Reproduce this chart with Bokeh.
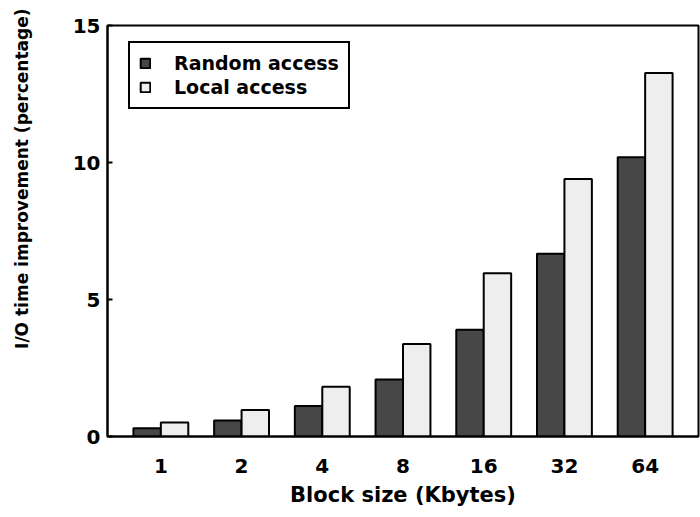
from bokeh.plotting import figure
from bokeh.models import ColumnDataSource, FactorRange, Range1d, Legend, LegendItem, Title, FixedTicker
from bokeh.transform import dodge
from bokeh.embed import file_html
from bokeh.resources import INLINE

block_sizes = ["1", "2", "4", "8", "16", "32", "64"]
random_access = [0.30, 0.58, 1.11, 2.08, 3.90, 6.67, 10.19]
local_access = [0.51, 0.97, 1.82, 3.38, 5.96, 9.40, 13.27]
y_ticks = [0, 5, 10, 15]

FONT = "DejaVu Sans"

src = ColumnDataSource(data=dict(size=block_sizes, rnd=random_access, loc=local_access))

p = figure(width=700, height=517, output_backend="svg", toolbar_location=None,
           x_range=FactorRange(factors=block_sizes, range_padding=0.046),
           y_range=Range1d(0, 15),
           min_border_left=107, min_border_right=2, min_border_top=25, min_border_bottom=81)

r1 = p.vbar(x=dodge("size", -0.17, range=p.x_range), top="rnd", width=0.34, source=src,
            fill_color="#474747", line_color="black", line_width=2)
r2 = p.vbar(x=dodge("size", 0.17, range=p.x_range), top="loc", width=0.34, source=src,
            fill_color="#eeeeee", line_color="black", line_width=2)

p.grid.visible = False
p.outline_line_color = "black"
p.outline_line_width = 2
p.outline_line_alpha = 1
p.background_fill_color = "white"
p.border_fill_color = "white"

for ax in (p.xaxis, p.yaxis):
    ax.axis_line_width = 2
    ax.axis_line_color = "black"
    ax.major_label_text_font = FONT
    ax.major_label_text_font_style = "bold"
    ax.major_label_text_font_size = "20px"
    ax.major_label_text_color = "black"
    ax.minor_tick_line_color = None

p.xaxis.major_tick_line_color = None
p.xaxis.major_label_standoff = 16
p.xaxis.axis_label = "Block size (Kbytes)"
p.xaxis.axis_label_text_font = FONT
p.xaxis.axis_label_text_font_style = "bold"
p.xaxis.axis_label_text_font_size = "21px"
p.xaxis.axis_label_text_color = "black"
p.xaxis.axis_label_standoff = 7

p.yaxis.ticker = FixedTicker(ticks=y_ticks)
p.yaxis.major_tick_in = 5
p.yaxis.major_tick_out = 0
p.yaxis.major_tick_line_width = 2
p.yaxis.major_label_standoff = 7
# blank spacer label widens the axis panel so the side title sits further left
p.yaxis.axis_label = " "
p.yaxis.axis_label_text_font_size = "20px"
p.yaxis.axis_label_standoff = 8

ytitle = Title(text="I/O time improvement (percentage)", align="right",
               text_font=FONT, text_font_style="bold", text_font_size="17px",
               text_color="black", standoff=10, offset=-17)
p.add_layout(ytitle, "left")

legend = Legend(items=[LegendItem(label="Random access", renderers=[r1]),
                       LegendItem(label="Local access", renderers=[r2])],
                location=(21, 327), margin=0,
                label_text_font=FONT, label_text_font_style="bold", label_text_font_size="19px",
                label_text_color="black", label_standoff=23,
                glyph_width=12, glyph_height=12, spacing=2, padding=9,
                border_line_color="black", border_line_width=2, border_line_alpha=1,
                background_fill_color="white", background_fill_alpha=1)
p.add_layout(legend)

open("out.html", "w").write(file_html(p, INLINE))
